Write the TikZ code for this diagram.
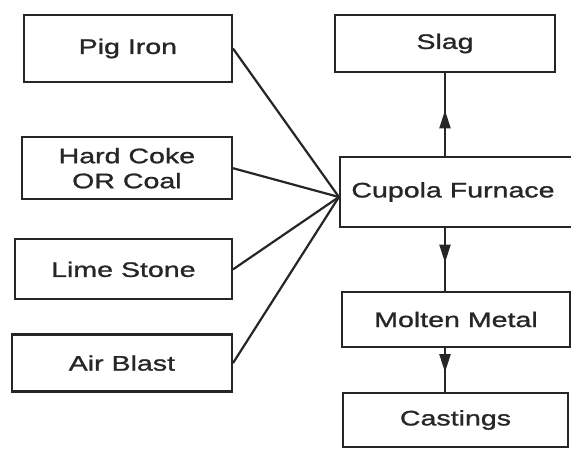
\documentclass[tikz,border=0pt]{standalone}
\usepackage{fontspec}
\newfontfamily\labelfont[FakeStretch=1.36, FakeBold=1.2]{Liberation Sans}
\usepackage{tikz}
\usetikzlibrary{
  arrows.meta,
  positioning,
  calc,
  decorations.markings
}
\colorlet{ink}{black!85}
\tikzset{
  box/.style={
    rectangle, draw=ink, line width=2.2pt,
    minimum width=210pt, minimum height=62pt,
    align=center, text=ink,
    font=\labelfont\fontsize{21}{25}\selectfont
  },
  feed/.style={draw=ink, line width=2.2pt},
  flow/.style={
    draw=ink, line width=2.2pt, postaction={decorate},
    decoration={markings,
      mark=at position 0.55 with {\arrow[ink]{Triangle[length=18pt,width=11pt]}}}
  }
}

\begin{document}
\begin{tikzpicture}[x=1pt, y=1pt]
\useasboundingbox (0,0) rectangle (571,-449);

% Charge materials
\node[box, minimum width=208pt, minimum height=67pt, anchor=east] (pig) at (233,-48.5) {Pig Iron};
\node[box, below=53pt of pig.south east, anchor=north east] (coke) {Hard Coke\\OR Coal};
\node[box, below=38pt of coke.south east, anchor=north east,
      minimum width=217pt, minimum height=60pt] (lime) {Lime Stone};
\node[box, below=33pt of lime.south east, anchor=north east,
      minimum width=220pt, minimum height=57pt] (air) {Air Blast};

% Furnace and products
\node[box, minimum width=240pt, minimum height=70pt] (cupola) at (460,-192) {\hspace*{-14pt}Cupola Furnace};
\node[box, minimum width=220pt, minimum height=57pt] (slag) at (445,-43.5) {Slag};
\node[box, minimum width=228pt, minimum height=55pt] (molten) at (456,-319.5) {Molten Metal};
\node[box, minimum width=225pt, minimum height=54pt] (cast) at (455.5,-420) {Castings};

% Feed lines
\coordinate (inlet) at ([yshift=-5pt]cupola.west);
\foreach \src in {pig, coke, lime, air}
  \draw[feed] (\src.east) -- (inlet);

% Flow arrows
\draw[flow] (slag.south |- cupola.north) -- (slag.south);
\draw[flow] (slag.south |- cupola.south) -- (slag.south |- molten.north);
\draw[flow] (slag.south |- molten.south) -- (slag.south |- cast.north);

\end{tikzpicture}
\end{document}
